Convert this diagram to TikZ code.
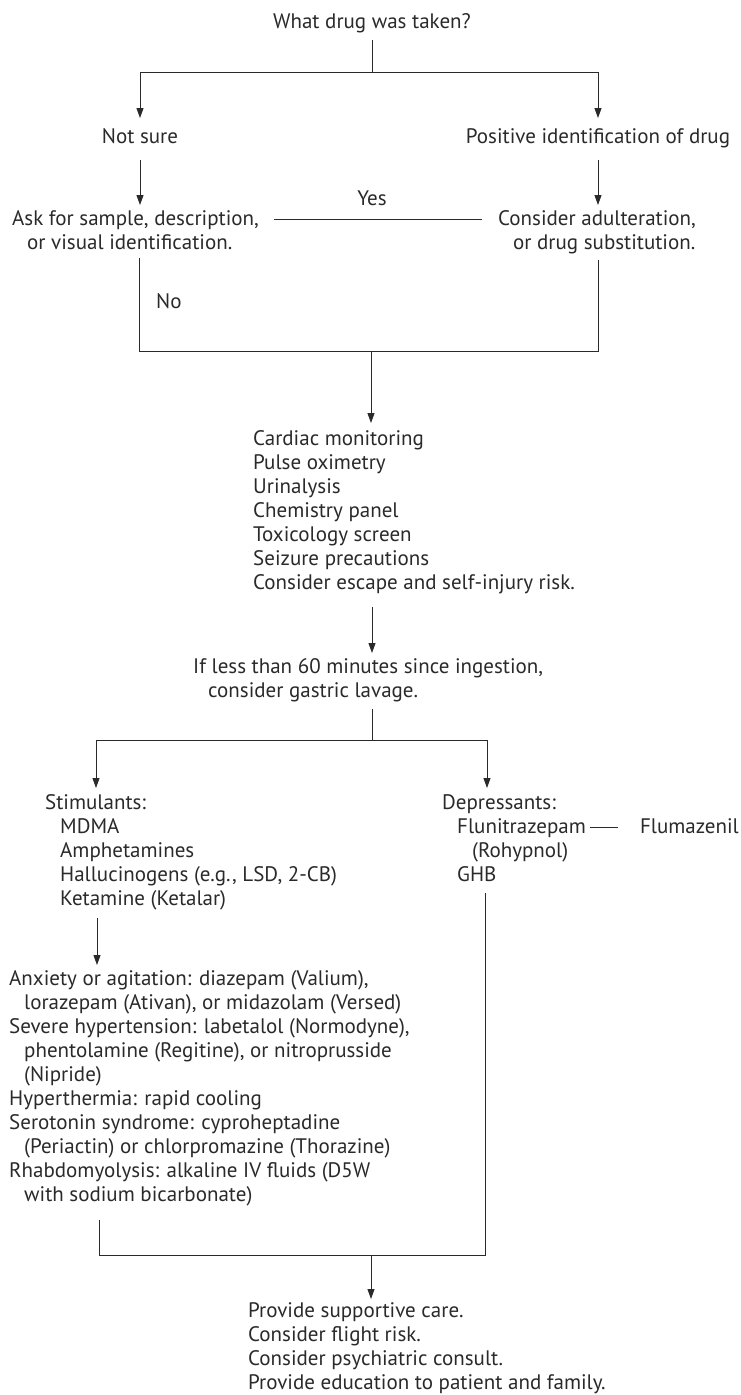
\documentclass[tikz,border=0pt]{standalone}
\usepackage{fontspec}
\setmainfont{PT Sans}
\usetikzlibrary{arrows.meta}
\definecolor{ink}{HTML}{2A2A2A}
\newcommand{\mlines}[1]{\begin{tabular}[t]{@{}l@{}}#1\end{tabular}}
\newcommand{\ind}{\hspace*{15pt}}
\begin{document}
\begin{tikzpicture}[x=1pt,y=-1pt,
  txt/.style={inner sep=0pt, anchor=base west, text=ink, font=\fontsize{21}{24}\selectfont},
  ctxt/.style={txt, anchor=base},
  etxt/.style={txt, anchor=base east},
  link/.style={draw=ink, line width=0.9pt},
  arr/.style={link, -{Triangle[length=10pt,width=7pt]}}]
\fill[white] (0,0) rectangle (740,1395);
\useasboundingbox (0,0) rectangle (740,1395);

% nodes
\node[ctxt] (title) at (372,28) {What drug was taken?};
\node[ctxt] (notsure) at (140,143) {Not sure};
\node[ctxt] (posid) at (598,143) {Positive identification of drug};
\node[txt] (ask) at (12,225) {\mlines{Ask for sample, description,\\ \ind or visual identification.}};
\node[txt] (adult) at (498,225) {\mlines{Consider adulteration,\\ \ind or drug substitution.}};
\node[ctxt] (yes) at (372,205) {Yes};
\node[txt] (no) at (156,308) {No};
\node[txt] (monitor) at (253,445) {\mlines{Cardiac monitoring\\ Pulse oximetry\\ Urinalysis\\ Chemistry panel\\ Toxicology screen\\ Seizure precautions\\ Consider escape and self-injury risk.}};
\node[txt] (lavage) at (193,673) {\mlines{If less than 60 minutes since ingestion,\\ \ind consider gastric lavage.}};
\node[txt] (stim) at (45,809) {\mlines{Stimulants:\\ \ind MDMA\\ \ind Amphetamines\\ \ind Hallucinogens (e.g., LSD, 2-CB)\\ \ind Ketamine (Ketalar)}};
\node[txt] (dep) at (442,809) {\mlines{Depressants:\\ \ind Flunitrazepam\\ \ind\ind (Rohypnol)\\ \ind GHB}};
\node[etxt] (flum) at (739,833) {Flumazenil};
\node[txt] (treat) at (9,985) {\mlines{Anxiety or agitation: diazepam (Valium),\\ \ind lorazepam (Ativan), or midazolam (Versed)\\ Severe hypertension: labetalol (Normodyne),\\ \ind phentolamine (Regitine), or nitroprusside\\ \ind (Nipride)\\ Hyperthermia: rapid cooling\\ Serotonin syndrome: cyproheptadine\\ \ind (Periactin) or chlorpromazine (Thorazine)\\ Rhabdomyolysis: alkaline IV fluids (D5W\\ \ind with sodium bicarbonate)}};
\node[txt] (final) at (248,1317) {\mlines{Provide supportive care.\\ Consider flight risk.\\ Consider psychiatric consult.\\ Provide education to patient and family.}};

% junction coordinates
\coordinate (t0) at (372,40);
\coordinate (t1) at (372,72);
\coordinate (tL) at (140,72);
\coordinate (tR) at (598,72);
\coordinate (nsTip) at (140,118);
\coordinate (piTip) at (598,118);
\coordinate (ns0) at (140,160);
\coordinate (askTip) at (140,205);
\coordinate (pi0) at (598,160);
\coordinate (adTip) at (598,205);
\coordinate (y0) at (274,219);
\coordinate (y1) at (482,219);
\coordinate (ask0) at (139,258);
\coordinate (askB) at (139,351);
\coordinate (ad0) at (598,260);
\coordinate (adB) at (598,351);
\coordinate (m0) at (371,351);
\coordinate (mTip) at (371,423);
\coordinate (l0) at (372,607);
\coordinate (lTip) at (372,653);
\coordinate (s0) at (372,709);
\coordinate (s1) at (372,740);
\coordinate (sL) at (96,740);
\coordinate (sR) at (487,740);
\coordinate (stTip) at (96,788);
\coordinate (dpTip) at (487,788);
\coordinate (st0) at (97,918);
\coordinate (trTip) at (97,965);
\coordinate (fl0) at (590,827);
\coordinate (fl1) at (618,827);
\coordinate (g0) at (485,893);
\coordinate (gB) at (485,1255);
\coordinate (tr0) at (99,1220);
\coordinate (trB) at (99,1255);
\coordinate (f0) at (371,1255);
\coordinate (fTip) at (371,1299);

% connectors
\draw[link] (t0) -- (t1);
\draw[link] (tL) -- (tR);
\draw[arr] (tL) -- (nsTip);
\draw[arr] (tR) -- (piTip);
\draw[arr] (ns0) -- (askTip);
\draw[arr] (pi0) -- (adTip);
\draw[link] (y0) -- (y1);
\draw[link] (ask0) -- (askB) -- (adB) -- (ad0);
\draw[arr] (m0) -- (mTip);
\draw[arr] (l0) -- (lTip);
\draw[link] (s0) -- (s1);
\draw[link] (sL) -- (sR);
\draw[arr] (sL) -- (stTip);
\draw[arr] (sR) -- (dpTip);
\draw[arr] (st0) -- (trTip);
\draw[link] (fl0) -- (fl1);
\draw[link] (g0) -- (gB) -- (trB) -- (tr0);
\draw[arr] (f0) -- (fTip);
\end{tikzpicture}
\end{document}
